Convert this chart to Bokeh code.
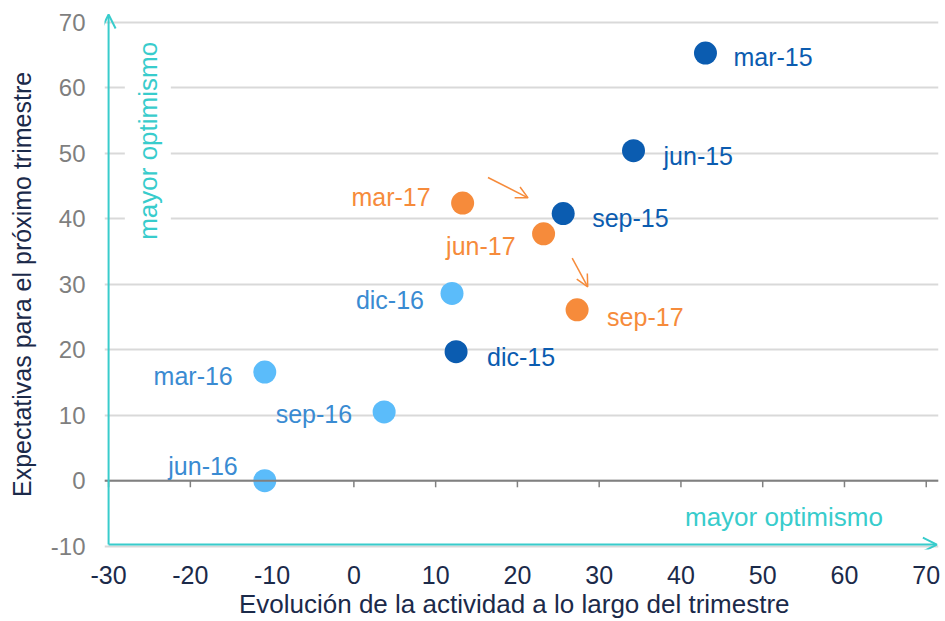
import math
from bokeh.plotting import figure
from bokeh.models import (ColumnDataSource, FixedTicker, Span, Label, Arrow,
                          OpenHead, Range1d)
from bokeh.core.properties import value
from bokeh.embed import file_html
from bokeh.resources import INLINE

# ---------------- data ----------------
labels_2015 = ["mar-15", "jun-15", "sep-15", "dic-15"]
x_2015 = [43.0, 34.2, 25.6, 12.5]
y_2015 = [65.3, 50.4, 40.8, 19.7]

labels_2016 = ["mar-16", "jun-16", "sep-16", "dic-16"]
x_2016 = [-10.9, -10.9, 3.7, 12.0]
y_2016 = [16.6, 0.0, 10.5, 28.6]

labels_2017 = ["mar-17", "jun-17", "sep-17"]
x_2017 = [13.3, 23.2, 27.3]
y_2017 = [42.4, 37.7, 26.1]

x_ticks = [-30, -20, -10, 0, 10, 20, 30, 40, 50, 60, 70]
x_tick_labels = ["-30", "-20", "-10", "0", "10", "20", "30", "40", "50", "60", "70"]
y_ticks = [-10, 0, 10, 20, 30, 40, 50, 60, 70]
y_tick_labels = ["-10", "0", "10", "20", "30", "40", "50", "60", "70"]

# trend arrows (orange), start -> end
trend_x0 = [16.4, 26.7]
trend_y0 = [46.3, 34.0]
trend_x1 = [21.3, 28.6]
trend_y1 = [43.2, 29.6]

x_title = "Evolución  de la actividad  a lo largo del trimestre"
y_title = "Expectativas  para el próximo trimestre"
opt_text = "mayor optimismo"

# ---------------- label placement (screen px) ----------------
place_2015 = {"dx": [28, 30, 29, 31], "dy": [4, 5, 4, 5], "align": ["left"] * 4}
place_2016 = {"dx": [-32, -27, -32, -28], "dy": [4, -15, 2, 7], "align": ["right"] * 4}
place_2017 = {"dx": [-32, -28, 30], "dy": [-6, 12, 7], "align": ["right", "right", "left"]}

# ---------------- style ----------------
FONT = "Liberation Sans"
TEAL = "#38cccc"
NAVY = "#1b2a4a"
GRID = "#d9d9d9"
series = [
    (labels_2015, x_2015, y_2015, place_2015, "#0b5cb0", "#0b5cb0"),
    (labels_2016, x_2016, y_2016, place_2016, "#5bbcfa", "#3a8bd2"),
    (labels_2017, x_2017, y_2017, place_2017, "#f68b3b", "#f68b3b"),
]

p = figure(frame_width=834, frame_height=537,
           min_border_left=104, min_border_right=7,
           min_border_top=12, min_border_bottom=72,
           x_range=Range1d(-30.5, 71.5), y_range=Range1d(-10.5, 71.5),
           output_backend="svg", toolbar_location=None,
           background_fill_color="white", border_fill_color="white")
p.outline_line_color = None

# axes
for ax in (p.xaxis[0], p.yaxis[0]):
    ax.axis_line_color = None
    ax.major_tick_line_color = None
    ax.minor_tick_line_color = None
    ax.major_tick_out = 0
    ax.major_tick_in = 0
    ax.minor_tick_out = 0
    ax.minor_tick_in = 0
    ax.major_label_text_font = FONT
    ax.axis_label_text_font = FONT
    ax.axis_label_text_font_style = "normal"
    ax.axis_label_text_color = NAVY

p.xaxis.ticker = FixedTicker(ticks=x_ticks)
p.yaxis.ticker = FixedTicker(ticks=y_ticks)
p.xaxis.major_label_overrides = dict(zip(x_ticks, x_tick_labels))
p.yaxis.major_label_overrides = dict(zip(y_ticks, y_tick_labels))
p.xaxis.major_label_text_font_size = "25px"
p.yaxis.major_label_text_font_size = "24px"
p.xaxis.major_label_text_color = NAVY
p.yaxis.major_label_text_color = "#7f7f7f"
p.xaxis.major_label_standoff = 16
p.yaxis.major_label_standoff = 19
p.xaxis.axis_label = x_title
p.yaxis.axis_label = y_title
p.xaxis.axis_label_text_font_size = "26px"
p.yaxis.axis_label_text_font_size = "25px"
p.xaxis.axis_label_standoff = 2
p.yaxis.axis_label_standoff = 12

p.xgrid.grid_line_color = None
p.ygrid.ticker = FixedTicker(ticks=y_ticks)
p.ygrid.grid_line_color = GRID
p.ygrid.grid_line_width = 2

# zero line with small ticks
p.add_layout(Span(location=0, dimension="width", line_color="#808080", line_width=2))
tick_src = ColumnDataSource(dict(x=x_ticks, y0=[0] * len(x_ticks), y1=[-1.0] * len(x_ticks)))
p.segment(x0="x", y0="y0", x1="x", y1="y1", source=tick_src,
          line_color="#808080", line_width=1.5)

# teal "optimism" arrows
p.add_layout(Arrow(end=OpenHead(line_color=TEAL, line_width=2, size=14),
                   x_start=x_ticks[0], y_start=y_ticks[0] + 0.25,
                   x_end=x_ticks[0], y_end=71.2,
                   line_color=TEAL, line_width=2))
p.add_layout(Arrow(end=OpenHead(line_color=TEAL, line_width=2, size=14),
                   x_start=x_ticks[0], y_start=y_ticks[0] + 0.25,
                   x_end=71.3, y_end=y_ticks[0] + 0.25,
                   line_color=TEAL, line_width=2))

p.add_layout(Label(x=-25.2, y=51.9, text=opt_text, angle=math.pi / 2,
                   text_align="center", text_baseline="middle",
                   text_font=FONT, text_font_size="26px", text_color=TEAL,
                   background_fill_color="white", padding=8))
p.add_layout(Label(x=64.7, y=-5.6, text=opt_text,
                   text_align="right", text_baseline="middle",
                   text_font=FONT, text_font_size="26px", text_color=TEAL))

# orange trend arrows
trend_src = ColumnDataSource(dict(x0=trend_x0, y0=trend_y0, x1=trend_x1, y1=trend_y1))
p.add_layout(Arrow(end=OpenHead(line_color="#f68b3b", line_width=1.5, size=12),
                   x_start="x0", y_start="y0", x_end="x1", y_end="y1",
                   source=trend_src, line_color="#f68b3b", line_width=1.5))

# points and labels
for labs, xs, ys, place, dot_col, lab_col in series:
    src = ColumnDataSource(dict(x=xs, y=ys, label=labs, dx=place["dx"],
                                dy=place["dy"], align=place["align"]))
    p.scatter("x", "y", source=src, size=23, fill_color=dot_col, line_color=None)
    p.text("x", "y", text="label", source=src, x_offset="dx", y_offset="dy",
           text_align="align", text_baseline="middle",
           text_font=value(FONT), text_font_size="25px", text_color=lab_col)

open("out.html", "w").write(file_html(p, INLINE))
